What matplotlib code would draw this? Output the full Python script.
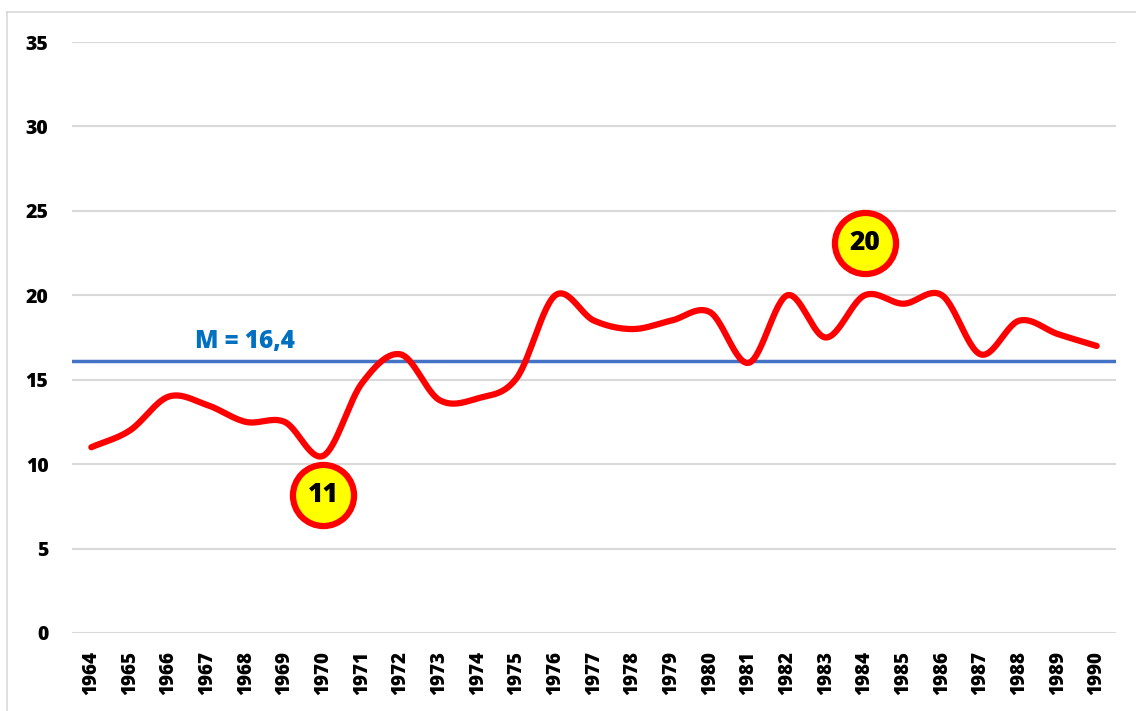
import matplotlib
matplotlib.use("Agg")
import matplotlib.pyplot as plt
import numpy as np
from matplotlib.lines import Line2D

years = [str(y) for y in range(1964, 1991)]
values = [11, 12, 14, 13.5, 12.5, 12.5, 10.5, 14.8, 16.5, 13.8, 13.9, 15.1, 20,
          18.5, 18, 18.5, 19, 16, 20, 17.5, 20, 19.5, 20, 16.5, 18.5, 17.7, 17]
mean_value = 16.1
mean_label = "M = 16,4"
annotations = [(6, 8.2, "11"), (20, 23.1, "20")]
yticks = [0, 5, 10, 15, 20, 25, 30, 35]

plt.rcParams['font.family'] = ['Open Sans', 'DejaVu Sans']
W = 'heavy'

def catmull_rom(x, y, n=30):
    x = np.asarray(x, float); y = np.asarray(y, float)
    px = np.concatenate([[2*x[0]-x[1]], x, [2*x[-1]-x[-2]]])
    py = np.concatenate([[2*y[0]-y[1]], y, [2*y[-1]-y[-2]]])
    xs, ys = [], []
    t = np.linspace(0, 1, n, endpoint=False)
    for i in range(1, len(px)-2):
        p0, p1, p2, p3 = py[i-1], py[i], py[i+1], py[i+2]
        q0, q1, q2, q3 = px[i-1], px[i], px[i+1], px[i+2]
        c1y = p1 + (p2 - p0)/6; c2y = p2 - (p3 - p1)/6
        c1x = q1 + (q2 - q0)/6; c2x = q2 - (q3 - q1)/6
        b = lambda a, c1, c2, d: (1-t)**3*a + 3*(1-t)**2*t*c1 + 3*(1-t)*t**2*c2 + t**3*d
        xs.append(b(q1, c1x, c2x, q2)); ys.append(b(p1, c1y, c2y, p2))
    xs.append([x[-1]]); ys.append([y[-1]])
    return np.concatenate(xs), np.concatenate(ys)

fig = plt.figure(figsize=(11.36, 7.11), dpi=100)
ax = fig.add_axes([72/1136, 1-633/711, (1116-72)/1136, (633-42)/711])

xi = np.arange(len(years))
sx, sy = catmull_rom(xi, values)
ax.plot(sx, sy, color='#FF0000', lw=4.5, solid_capstyle='round', zorder=3)
ax.axhline(mean_value, color='#4472C4', lw=2.5, zorder=2)
ax.text(2.68, mean_value + 0.4, mean_label, color='#0070C0', fontsize=17.5,
        fontweight=W, ha='left', va='bottom')

for xa, ya, txt in annotations:
    ax.plot([xa], [ya], 'o', ms=44, mfc='#FFFF00', mec='#FF0000', mew=4.5, zorder=5)
    ax.text(xa, ya, txt, ha='center', va='center', fontsize=19, fontweight=W,
            color='black', zorder=6)

ax.set_xlim(-0.5, len(years) - 0.5)
ax.set_ylim(0, 35)
ax.set_yticks(yticks)
ax.set_yticklabels([str(v) for v in yticks], fontsize=14, fontweight=W)
ax.set_xticks(xi)
ax.set_xticklabels(years, rotation=90, fontsize=13.5, fontweight=W)
ax.tick_params(length=0)
ax.tick_params(axis='y', pad=17)
ax.tick_params(axis='x', pad=13)
ax.grid(axis='y', color='#D9D9D9', lw=1.5)
ax.set_axisbelow(True)
for s in ax.spines.values():
    s.set_visible(False)

fig.add_artist(Line2D([7/1136, 7/1136], [0, 1-12/711], transform=fig.transFigure, color='#D9D9D9', lw=1.2))
fig.add_artist(Line2D([7/1136, 1], [1-12/711, 1-12/711], transform=fig.transFigure, color='#D9D9D9', lw=1.2))

fig.savefig('out.png', dpi=100)
